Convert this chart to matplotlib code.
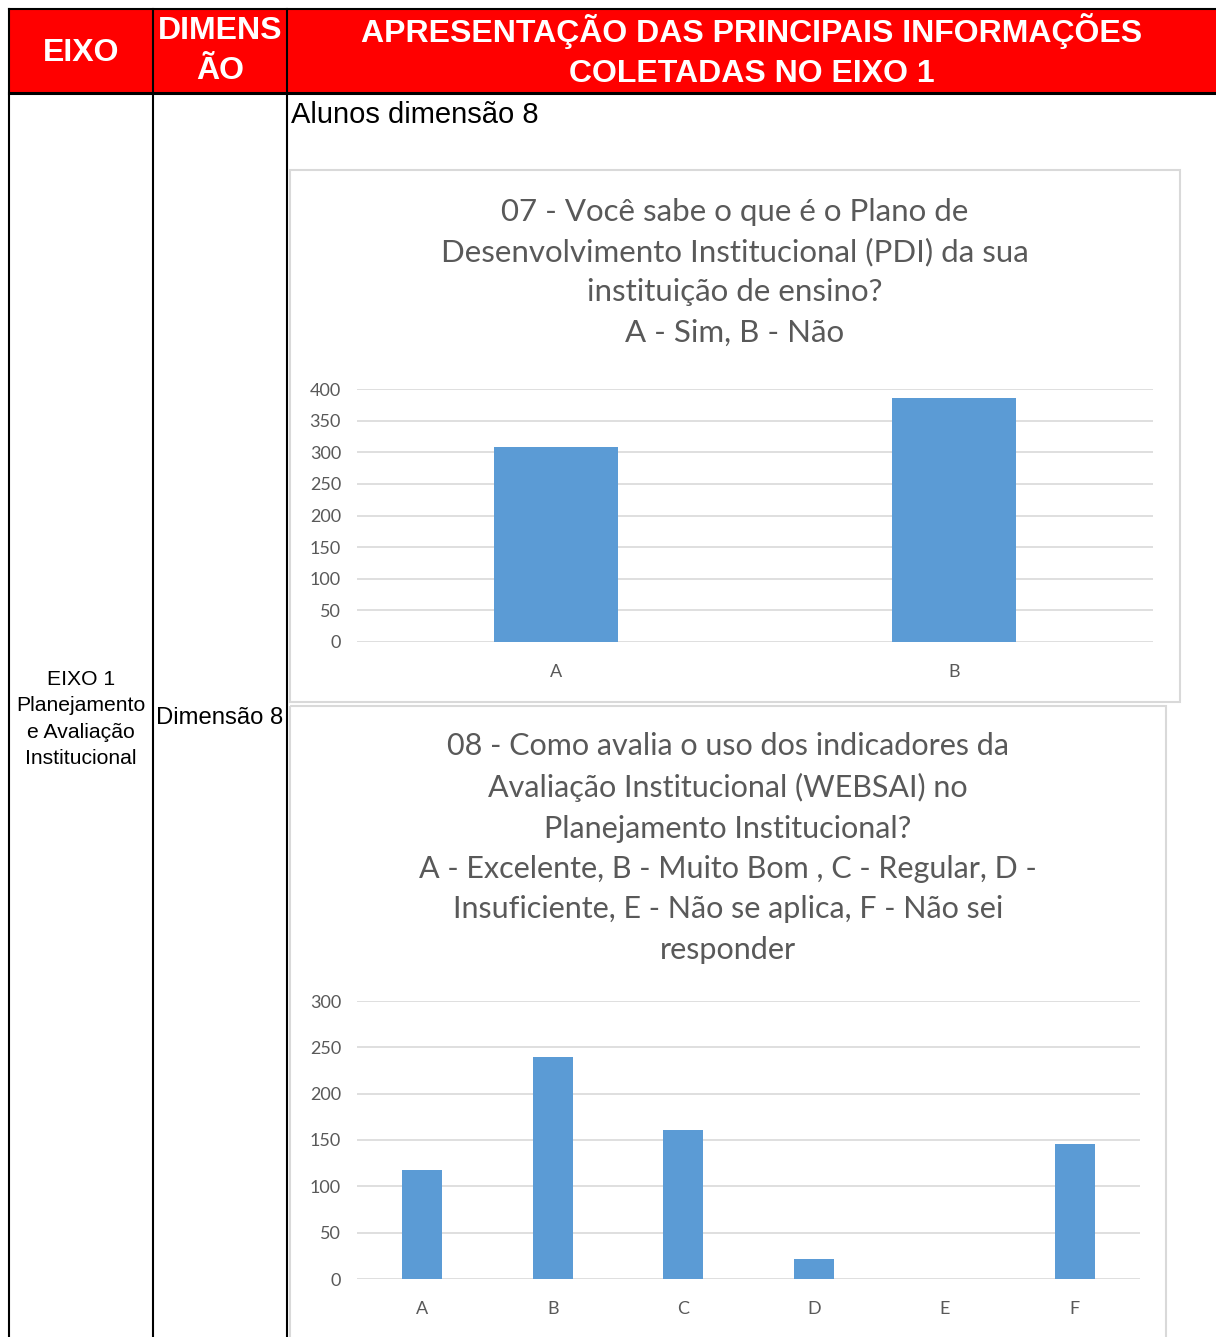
import matplotlib
matplotlib.use("Agg")
import matplotlib.pyplot as plt
from matplotlib.patches import Rectangle

# data
q07_title = "07 - Você sabe o que é o Plano de\nDesenvolvimento Institucional (PDI) da sua\ninstituição de ensino?\nA - Sim, B - Não"
q07_cats = ["A", "B"]
q07_vals = [308, 386]
q07_ticks = [0, 50, 100, 150, 200, 250, 300, 350, 400]

q08_title = ("08 - Como avalia o uso dos indicadores da\nAvaliação Institucional (WEBSAI) no\n"
             "Planejamento Institucional?\nA - Excelente, B - Muito Bom , C - Regular, D -\n"
             "Insuficiente, E - Não se aplica, F - Não sei\nresponder")
q08_cats = ["A", "B", "C", "D", "E", "F"]
q08_vals = [118, 240, 161, 22, 0, 146]
q08_ticks = [0, 50, 100, 150, 200, 250, 300]

W, H = 1216, 1337
fig = plt.figure(figsize=(W / 100, H / 100), dpi=100)
base = fig.add_axes([0, 0, 1, 1])
base.set_xlim(0, W)
base.set_ylim(H, 0)
base.axis("off")

arial = ["Liberation Sans", "DejaVu Sans"]
chart_font = ["Lato", "DejaVu Sans"]
gray = "#595959"
blue = "#5b9bd5"
grid = "#d9d9d9"

# table header
base.add_patch(Rectangle((9, 9), W - 9, 84, color="#ff0000", zorder=1))
base.plot([9, W], [9, 9], color="black", lw=1.5, zorder=3)
base.plot([9, W], [93, 93], color="black", lw=2.2, zorder=3)
for x in [9, 153, 287]:
    base.plot([x, x], [9, H], color="black", lw=1.5, zorder=3)

hdr = dict(color="white", fontweight="bold", family=arial, fontsize=23,
           ha="center", va="center", linespacing=1.42, zorder=4)
base.text(81, 53, "EIXO", **hdr)
base.text(220, 51, "DIMENS\nÃO", **hdr)
base.text(752, 51, "APRESENTAÇÃO DAS PRINCIPAIS INFORMAÇÕES\nCOLETADAS NO EIXO 1", **hdr)

base.text(291, 115, "Alunos dimensão 8", family=arial, fontsize=21,
          ha="left", va="center", zorder=4)
base.text(81, 719, "EIXO 1\nPlanejamento\ne Avaliação\nInstitucional", family=arial,
          fontsize=15.2, ha="center", va="center", linespacing=1.47, zorder=4)
base.text(220, 718, "Dimensão 8", family=arial, fontsize=17.2,
          ha="center", va="center", zorder=4)

# chart frames
base.add_patch(Rectangle((290, 170), 890, 532, fill=False, ec=grid, lw=1.5, zorder=2))
base.add_patch(Rectangle((290, 706), 876, 640, fill=False, ec=grid, lw=1.5, zorder=2))

base.text(735, 272, q07_title, family=chart_font, fontsize=22.5, color=gray,
          ha="center", va="center", linespacing=1.52, zorder=4)
base.text(728, 848, q08_title, family=chart_font, fontsize=22.0, color=gray,
          ha="center", va="center", linespacing=1.54, zorder=4)


def bar_chart(x0, x1, ytop, ybot, cats, vals, ticks):
    ax = fig.add_axes([x0 / W, 1 - ybot / H, (x1 - x0) / W, (ybot - ytop) / H])
    ax.set_zorder(5)
    ax.patch.set_alpha(0)
    ax.bar(range(len(cats)), vals, width=0.31, color=blue, zorder=3)
    ax.set_xlim(-0.5, len(cats) - 0.5)
    ax.set_ylim(ticks[0], ticks[-1])
    ax.set_yticks(ticks)
    ax.set_xticks(range(len(cats)))
    ax.set_xticklabels(cats)
    ax.yaxis.grid(True, color=grid, lw=1.2, zorder=0)
    ax.set_axisbelow(True)
    for s in ax.spines.values():
        s.set_visible(False)
    ax.tick_params(length=0, colors=gray, labelsize=13, pad=11.5)
    ax.tick_params(axis="x", pad=15.5)
    for lab in ax.get_xticklabels() + ax.get_yticklabels():
        lab.set_family(chart_font)
    return ax


bar_chart(357, 1153, 389, 642, q07_cats, q07_vals, q07_ticks)
bar_chart(357, 1140, 1001, 1279, q08_cats, q08_vals, q08_ticks)

fig.savefig("out.png", dpi=100)
